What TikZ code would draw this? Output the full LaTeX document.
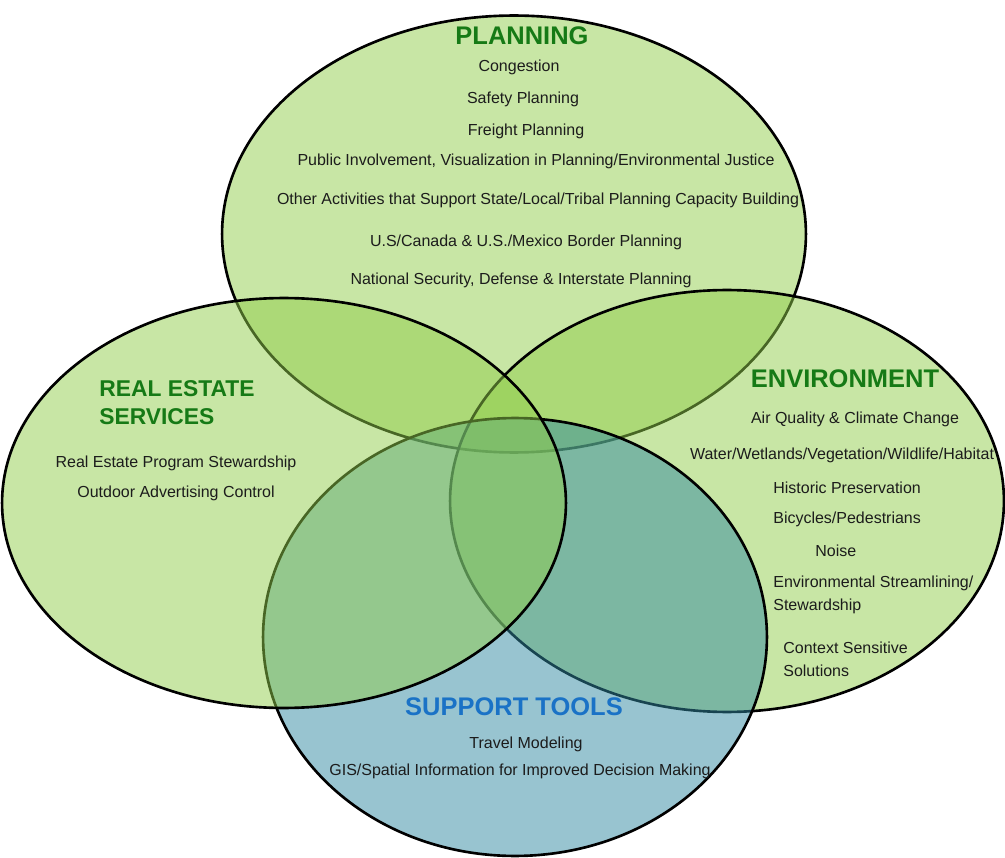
\documentclass[tikz,border=0pt]{standalone}
\usepackage{fontspec}
\setmainfont{Liberation Sans}
\usepackage{tikz}
\usetikzlibrary{shapes.geometric,positioning}
\definecolor{leafgreen}{HTML}{91CD4B}
\definecolor{toolblue}{HTML}{3189A1}
\definecolor{titlegreen}{HTML}{167A16}
\definecolor{titleblue}{HTML}{1A72C6}
\definecolor{itemtext}{HTML}{1C1C1C}
\tikzset{
  area/.style={
    ellipse, draw=black, line width=1.5pt,
    fill=#1, fill opacity=0.5, draw opacity=1,
    inner sep=0pt,
  },
  heading/.style={font=\fontsize{14.5}{17}\selectfont\bfseries, text=#1, align=left, inner sep=0pt},
  item/.style={font=\fontsize{9.1}{13}\selectfont, text=itemtext, align=left, inner sep=0pt},
}

\begin{document}
\begin{tikzpicture}[x=0.02cm, y=-0.02cm]

  \useasboundingbox (0,0) rectangle (1005,858);

  % the four areas, later ones cover the outlines of earlier ones
  \node[area=leafgreen, minimum width=11.68cm, minimum height=8.74cm] (planning) at (514,234) {};
  \node[area=leafgreen, minimum width=11.08cm, minimum height=8.44cm] (environment) at (727,501) {};
  \node[area=toolblue, minimum width=10.08cm, minimum height=8.76cm] (tools) at (515,637) {};
  \node[area=leafgreen, minimum width=11.28cm, minimum height=8.2cm] (realestate) at (284,503) {};

  % planning
  \node[heading=titlegreen] (plantitle) at (522,36) {PLANNING};
  \node[item] (congestion) at (519,67) {Congestion};
  \node[item] (safety) at (523,99) {Safety Planning};
  \node[item] (freight) at (526,131) {Freight Planning};
  \node[item] (public) at (536,161) {Public Involvement, Visualization in Planning/Environmental Justice};
  \node[item] (capacity) at (538,200) {Other Activities that Support State/Local/Tribal Planning Capacity Building};
  \node[item] (border) at (526,242) {U.S/Canada \& U.S./Mexico Border Planning};
  \node[item] (security) at (521,280) {National Security, Defense \& Interstate Planning};

  % real estate
  \node[heading=titlegreen, font=\fontsize{13}{16}\selectfont\bfseries, anchor=north west] (realtitle)
    at (99,380) {REAL ESTATE\\SERVICES};
  \node[item] (program) at (176,463) {Real Estate Program Stewardship};
  \node[item] (outdoor) at (176,493) {Outdoor Advertising Control};

  % environment
  \node[heading=titlegreen] (envtitle) at (845,379) {ENVIRONMENT};
  \node[item] (air) at (855,419) {Air Quality \& Climate Change};
  \node[item] (water) at (842,455) {Water/Wetlands/Vegetation/Wildlife/Habitat};
  \node[item, anchor=west] (historic) at (773,488) {Historic Preservation};
  \node[item, anchor=west] (bicycles) at (773,519) {Bicycles/Pedestrians};
  \node[item, anchor=west] (noise) at (815,551) {Noise};
  \node[item, anchor=west] (streamline) at (773,595) {Environmental Streamlining/\\Stewardship};
  \node[item, anchor=west] (context) at (783,659) {Context Sensitive\\Solutions};

  % support tools
  \node[heading=titleblue] (tooltitle) at (514,707) {SUPPORT TOOLS};
  \node[item] (travel) at (526,744) {Travel Modeling};
  \node[item] (gis) at (520,771) {GIS/Spatial Information for Improved Decision Making};

\end{tikzpicture}
\end{document}
